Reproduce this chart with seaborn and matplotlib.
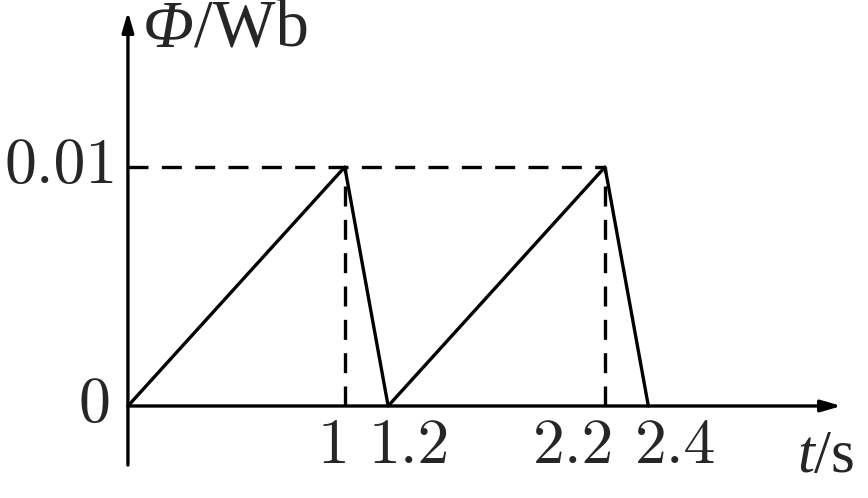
import matplotlib
matplotlib.use("Agg")
import matplotlib.pyplot as plt
import seaborn as sns
import pandas as pd

# ---- data ----
t_values = [0, 1, 1.2, 2.2, 2.4]
phi_values = [0, 0.01, 0, 0.01, 0]
x_tick_labels = ["1", "1.2", "2.2", "2.4"]
x_tick_pos = [1, 1.2, 2.2, 2.4]
y_tick_labels = ["0", "0.01"]
y_tick_pos = [0, 0.01]

sns.set_style("white")
plt.rcParams["font.family"] = ["Liberation Serif", "DejaVu Serif"]
plt.rcParams["mathtext.fontset"] = "custom"
plt.rcParams["mathtext.rm"] = "Liberation Serif"
plt.rcParams["mathtext.it"] = "Liberation Serif:italic"

df = pd.DataFrame({"t": t_values, "phi": phi_values})

fig = plt.figure(figsize=(8.68, 4.98), dpi=100)
ax = fig.add_axes([0, 0, 1, 1])
ax.set_xlim(-0.590, 3.413)
ax.set_ylim(-0.00385, 0.01699)
ax.axis("off")

lw = 2.4
# dashed guide lines at the peaks
peak_t = [t for t, p in zip(t_values, phi_values) if p == max(phi_values)]
ax.plot([0, max(peak_t)], [max(phi_values)] * 2, color="black", lw=lw,
        dashes=(6.0, 4.0))
for pt in peak_t:
    ax.plot([pt, pt], [0, max(phi_values)], color="black", lw=lw,
            dashes=(6.0, 4.0))

sns.lineplot(data=df, x="t", y="phi", ax=ax, color="black", lw=lw,
             estimator=None, sort=False)

# axes with arrows
ax.annotate("", xy=(3.29, 0), xytext=(0, 0),
            arrowprops=dict(arrowstyle="-|>,head_length=1.2,head_width=0.35",
                            color="black", lw=lw, shrinkA=0, shrinkB=0))
ax.annotate("", xy=(0, 0.0165), xytext=(0, -0.00247),
            arrowprops=dict(arrowstyle="-|>,head_length=1.2,head_width=0.35",
                            color="black", lw=lw, shrinkA=0, shrinkB=0))

fs = 46
# label alignment so neighbouring labels do not collide
x_align = [("right", 3), ("left", -14), ("right", 7), ("left", -10)]
for pos, lab, (ha, dx) in zip(x_tick_pos, x_tick_labels, x_align):
    ax.annotate(lab, xy=(pos, 0), xytext=(dx, -9), textcoords="offset points",
                ha=ha, va="top", fontsize=fs, family="cmr10")
y_dx = [-13, -7]
for pos, lab, dx in zip(y_tick_pos, y_tick_labels, y_dx):
    ax.annotate(lab, xy=(0, pos), xytext=(dx, 0), textcoords="offset points",
                ha="right", va="center", fontsize=fs, family="cmr10")

phi_txt = ax.text(0.07, 0.0170, "Φ", ha="left", va="top", fontsize=48,
                  fontstyle="italic")
ax.annotate("/Wb", xy=(1, 0), xycoords=phi_txt, ha="left", va="bottom",
            fontsize=48)
ax.text(3.35, -0.0010, r"$t$/s", ha="right", va="top", fontsize=44)

fig.savefig("out.png", dpi=100)
